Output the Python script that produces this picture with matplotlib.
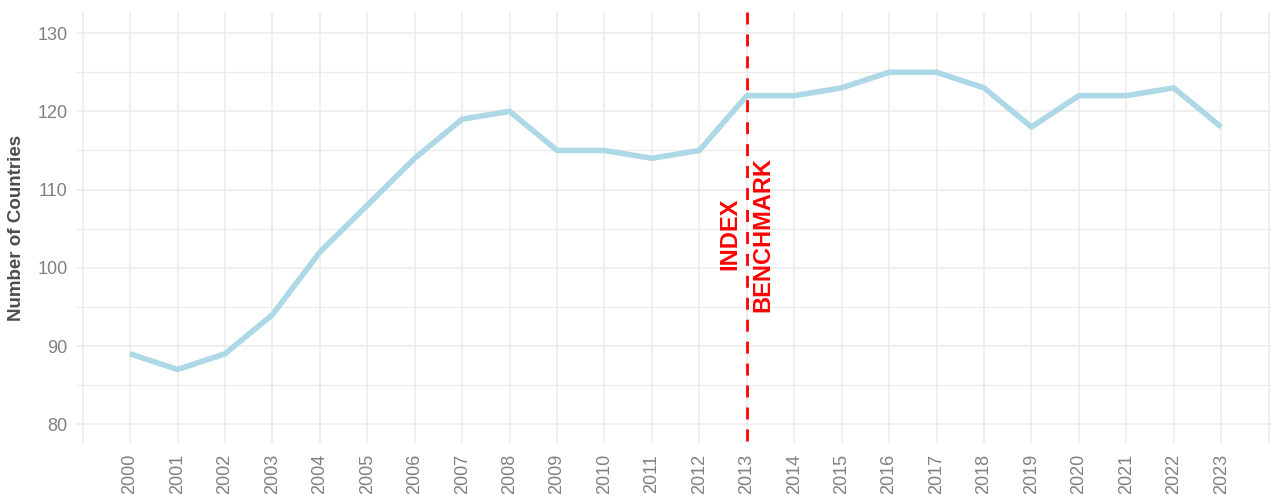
import matplotlib.pyplot as plt
from matplotlib.ticker import MultipleLocator

# --------------------------------------------------------------
# Data
# --------------------------------------------------------------

years = list(range(2000, 2024))
countries = [89, 87, 89, 94, 102, 108, 114, 119, 120, 115, 115, 114,
             115, 122, 122, 123, 125, 125, 123, 118, 122, 122, 123, 118]
benchmark_year = 2013
benchmark_label = "INDEX\nBENCHMARK"

# --------------------------------------------------------------
# Plot
# --------------------------------------------------------------

plt.rcParams["font.family"] = ["Liberation Sans", "DejaVu Sans"]

fig = plt.figure(figsize=(12.71, 4.94), dpi=100)
ax = fig.add_axes([76 / 1271, 1 - 443 / 494, 1 - 76 / 1271, (443 - 12) / 494])

grid_color = "#EBEBEB"
for yr in range(1999, 2025):
    ax.axvline(yr, color=grid_color, lw=1.1, zorder=0)
for v in range(80, 135, 5):
    ax.axhline(v, color=grid_color, lw=1.1 if v % 10 == 0 else 0.8, zorder=0)

ax.plot(years, countries, color="#ADD8E6", lw=4.0, solid_capstyle="butt", zorder=3)

# dashed benchmark line, drawn top-down so the dash pattern starts at the top
ax.plot([benchmark_year, benchmark_year], [1, 0], transform=ax.get_xaxis_transform(),
        color="red", lw=2.0, ls=(0, (4.3, 3.6)), solid_capstyle="butt", zorder=4)
ax.text(benchmark_year, 104.3, benchmark_label, rotation=90, ha="center", va="center",
        multialignment="center", color="red", fontsize=17, fontweight="bold",
        linespacing=1.55, zorder=5)

ax.set_xlim(1998.86, 2024.05)
ax.set_ylim(77.6, 132.7)
ax.set_xticks(years)
ax.set_xticklabels([str(y) for y in years], rotation=90)
ax.yaxis.set_major_locator(MultipleLocator(10))

ax.tick_params(axis="both", length=0, labelsize=13, labelcolor="#808080")
ax.tick_params(axis="x", pad=8)
ax.tick_params(axis="y", pad=6)
for s in ax.spines.values():
    s.set_visible(False)

ax.set_ylabel("Number of Countries", fontsize=13.5, fontweight="bold",
              color="#4D4D4D", labelpad=9)

plt.savefig("out.png", dpi=100)
